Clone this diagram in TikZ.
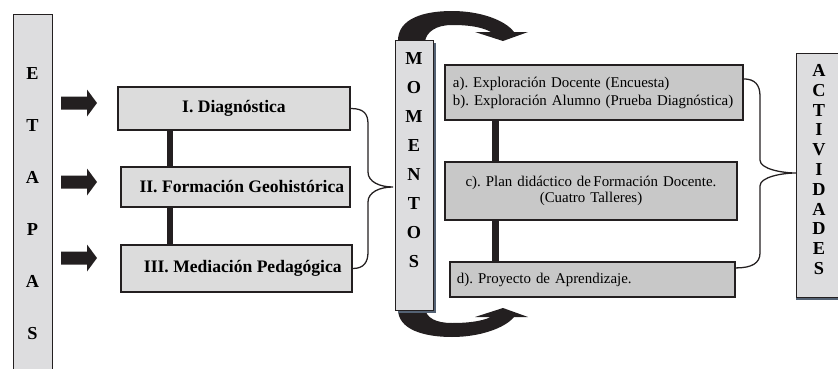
\documentclass[tikz,border=0pt]{standalone}
\usepackage{fontspec}
\setmainfont{Liberation Serif}
\definecolor{grisbarra}{RGB}{221,221,223}
\definecolor{grisetapa}{RGB}{220,220,220}
\definecolor{grismomento}{RGB}{200,200,200}
\definecolor{sombra}{RGB}{84,98,116}
\definecolor{tinta}{RGB}{35,31,32}
\frenchspacing

\begin{document}
\begin{tikzpicture}[x=0.025cm, y=-0.025cm,
		barra/.style={draw=tinta, fill=grisbarra, line width=0.6pt, inner sep=0pt},
		letras/.style={align=center, inner sep=0pt, font=\bfseries\fontsize{13}{#1}\selectfont},
		etapa/.style={draw=tinta, fill=grisetapa, line width=1.1pt, inner sep=0pt, font=\bfseries\fontsize{12.5}{14}\selectfont},
		momento/.style={draw=tinta, fill=grismomento, line width=0.9pt, inner sep=0pt, font=\fontsize{10.6}{12.8}\selectfont},
		enlace/.style={draw=tinta, line width=4.6pt},
		llave/.style={draw=tinta, line width=0.9pt},
		flecha/.style={fill=tinta},
		curva/.style={fill=tinta}]
		\useasboundingbox (0,0) rectangle (838,369);

		% etapas
		\node[barra, minimum width=0.975cm, minimum height=9.05cm] (etapas) at (32.5,195) {};
		\node[letras=37, anchor=north] (etapastxt) at (32.5,67) {E\\T\\A\\P\\A\\S};
		\foreach \y in {103,182,258}
			\fill[flecha] (61,\y-6.5) -- (87,\y-6.5) -- (87,\y-13.5) -- (97,\y) -- (87,\y+13.5) -- (87,\y+6.5) -- (61,\y+6.5) -- cycle;

		\node[etapa, minimum width=5.8cm, minimum height=1.075cm] (diag) at (234,108.5) {I. Diagnóstica};
		\node[etapa, minimum width=5.725cm, minimum height=1cm] (form) at (235.5,187) {\hspace*{9pt}II. Formación Geohistórica};
		\node[etapa, minimum width=5.775cm, minimum height=1.175cm] (medi) at (236.5,268.5) {\hspace*{9pt}III. Mediación Pedagógica};
		\coordinate (ejeA) at (170,0);
		\draw[enlace] (diag.south -| ejeA) -- (form.north -| ejeA);
		\draw[enlace] (form.south -| ejeA) -- (medi.north -| ejeA);

		% momentos
		\fill[curva] (398,42) .. controls (397,18) and (425,11) .. (452,11) .. controls (480,11) and (505,20) .. (514,32) -- (528,32) -- (503,41) -- (475,32) -- (491,32) .. controls (480,26) and (465,25) .. (452,25) .. controls (436,25) and (426,32) .. (425,42) -- cycle;
		\fill[curva] (398,308) .. controls (397,330) and (425,337) .. (452,337) .. controls (480,337) and (505,328) .. (514,317) -- (528,317) -- (503,308) -- (475,317) -- (491,317) .. controls (480,322) and (465,323) .. (452,323) .. controls (436,323) and (426,318) .. (425,308) -- cycle;
		\fill[sombra] (398,43) rectangle (436,313);
		\node[barra, minimum width=0.95cm, minimum height=6.75cm] (momentos) at (414,175) {};
		\node[letras=20.6, anchor=north] (momentostxt) at (414,52) {M\\O\\M\\E\\N\\T\\O\\S};
		\coordinate (puntaA) at (393,187);
		\draw[llave] (diag.east) .. controls (364,108.5) and (368,114) .. (368,124) -- (368,172) .. controls (368,182) and (380,187) .. (puntaA) .. controls (380,187) and (368,192) .. (368,202) -- (368,252) .. controls (368,262) and (364,268.5) .. (medi.east);

		% actividades
		\node[momento, minimum width=7.45cm, minimum height=1.375cm, text width=7.05cm, align=left] (explo) at (594,92.5) {a). Exploración Docente (Encuesta)\\b). Exploración Alumno (Prueba Diagnóstica)};
		\node[momento, minimum width=7.3cm, minimum height=1.45cm, text width=6.7cm, align=center] (plan) at (591,191) {c). Plan didáctico de\,Formación Docente.\\[-1.5pt](Cuatro Talleres)};
		\node[momento, minimum width=7.125cm, minimum height=0.875cm, text width=6.775cm, align=left] (proy) at (592.5,279.5) {d). Proyecto de Aprendizaje.};
		\coordinate (ejeB) at (495.5,0);
		\draw[enlace, line width=5.2pt] (explo.south -| ejeB) -- (plan.north -| ejeB);
		\draw[enlace, line width=5.2pt] (plan.south -| ejeB) -- (proy.north -| ejeB);

		\fill[sombra] (796,297) rectangle (842,300);
		\node[barra, minimum width=1.15cm, minimum height=6.1cm] (activ) at (819,175) {};
		\node[letras=14.1, anchor=north] (activtxt) at (819,64) {A\\C\\T\\I\\V\\I\\D\\A\\D\\E\\S};
		\coordinate (puntaB) at (796,173);
		\draw[llave] ([yshift=0.34cm]explo.east) .. controls (755,79) and (760,85) .. (760,96) -- (760,160) .. controls (760,169) and (782,173) .. (puntaB) .. controls (782,173) and (760,177) .. (760,186) -- (760,253) .. controls (760,263) and (752,268) .. ([yshift=0.29cm]proy.east);
	\end{tikzpicture}
\end{document}
